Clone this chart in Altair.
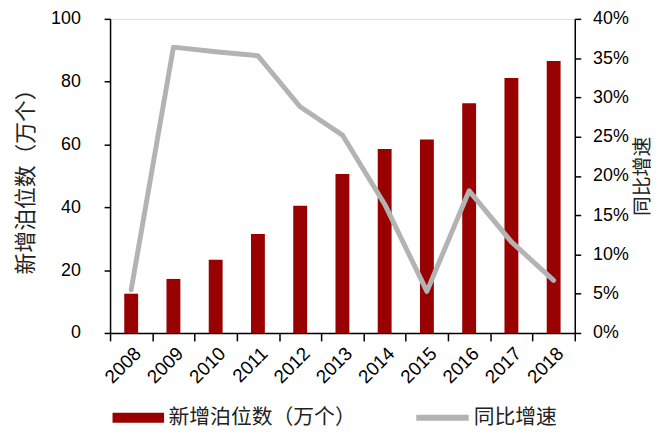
import altair as alt
import pandas as pd

years = ["2008", "2009", "2010", "2011", "2012", "2013", "2014", "2015", "2016", "2017", "2018"]
berths = [12.5, 17.2, 23.3, 31.5, 40.5, 50.6, 58.6, 61.6, 73.1, 81.2, 86.6]
growth = [0.055, 0.364, 0.358, 0.353, 0.288, 0.252, 0.164, 0.053, 0.181, 0.116, 0.067]

bar_name = "新增泊位数（万个）"
line_name = "同比增速"

df = pd.DataFrame({"year": years, "berths": berths, "growth": growth})

CJK = "Noto Sans CJK SC"
NUM = "Liberation Sans"

x = alt.X("year:O", title=None,
          scale=alt.Scale(paddingInner=0, paddingOuter=0),
          axis=alt.Axis(labelAngle=-45, labelFont=NUM, labelFontSize=19, labelColor="black",
                        ticks=True, tickSize=8, tickColor="black", tickBand="extent",
                        tickWidth=1.5, tickOpacity=1, domainColor="black", domainWidth=1.5,
                        labelPadding=3))

bars = alt.Chart(df).transform_calculate(series=f"'{bar_name}'").mark_bar(size=14).encode(
    x=x,
    y=alt.Y("berths:Q", title="新增泊位数（万个）",
            scale=alt.Scale(domain=[0, 100]),
            axis=alt.Axis(values=[0, 20, 40, 60, 80, 100], grid=False, tickSize=6,
                          tickColor="black", domainColor="black", tickWidth=1.5, domainWidth=1.5,
                          labelFont=NUM, labelFontSize=18, labelColor="black", labelPadding=24,
                          titleFont=CJK, titleFontSize=22, titleFontWeight="normal",
                          titleColor="#222222", titlePadding=13)),
    color=alt.Color("series:N", scale=alt.Scale(domain=[bar_name], range=["#990000"]),
                    legend=alt.Legend(title=None, orient="none", legendX=18, legendY=392,
                                      symbolType="M-2.6,-0.5H2.6V0.5H-2.6Z", symbolSize=400,
                                      symbolStrokeWidth=0, symbolOpacity=1,
                                      labelFont=CJK, labelFontSize=21, labelColor="#222222",
                                      labelOffset=20, labelLimit=400, padding=0)),
)

line = alt.Chart(df).transform_calculate(series=f"'{line_name}'").mark_line(
    strokeWidth=5, strokeCap="round", strokeJoin="round").encode(
    x=x,
    y=alt.Y("growth:Q", title="同比增速",
            scale=alt.Scale(domain=[0, 0.4]),
            axis=alt.Axis(orient="right", values=[0, 0.05, 0.1, 0.15, 0.2, 0.25, 0.3, 0.35, 0.4],
                          format=".0%", grid=False, tickSize=6, tickColor="black",
                          tickWidth=1.5, domainWidth=1.5,
                          domainColor="black", labelFont=NUM, labelFontSize=18,
                          labelColor="black", labelPadding=12,
                          titleFont=CJK, titleFontSize=20, titleFontWeight="normal",
                          titleAngle=270, titleBaseline="bottom", titleColor="#222222",
                          titlePadding=24)),
    color=alt.Color("series:N", scale=alt.Scale(domain=[line_name], range=["#b3b3b3"]),
                    legend=alt.Legend(title=None, orient="none", legendX=306, legendY=373,
                                      symbolType="stroke", symbolSize=2800,
                                      symbolStrokeWidth=6,
                                      labelFont=CJK, labelFontSize=21, labelColor="#222222",
                                      labelOffset=2, labelLimit=400, padding=0)),
)

chart = alt.layer(bars, line).resolve_scale(y="independent", color="independent").resolve_legend(
    color="independent").properties(
    width=469, height=317,
    padding={"left": 6, "top": 0, "right": 6, "bottom": 0},
).configure_view(stroke=None).configure(background="white").configure_axisX(
    ticks=True, tickSize=8, tickColor="black", tickWidth=1.5, tickBand="extent")

chart.save("out.html", embed_options={"renderer": "svg", "actions": False})
